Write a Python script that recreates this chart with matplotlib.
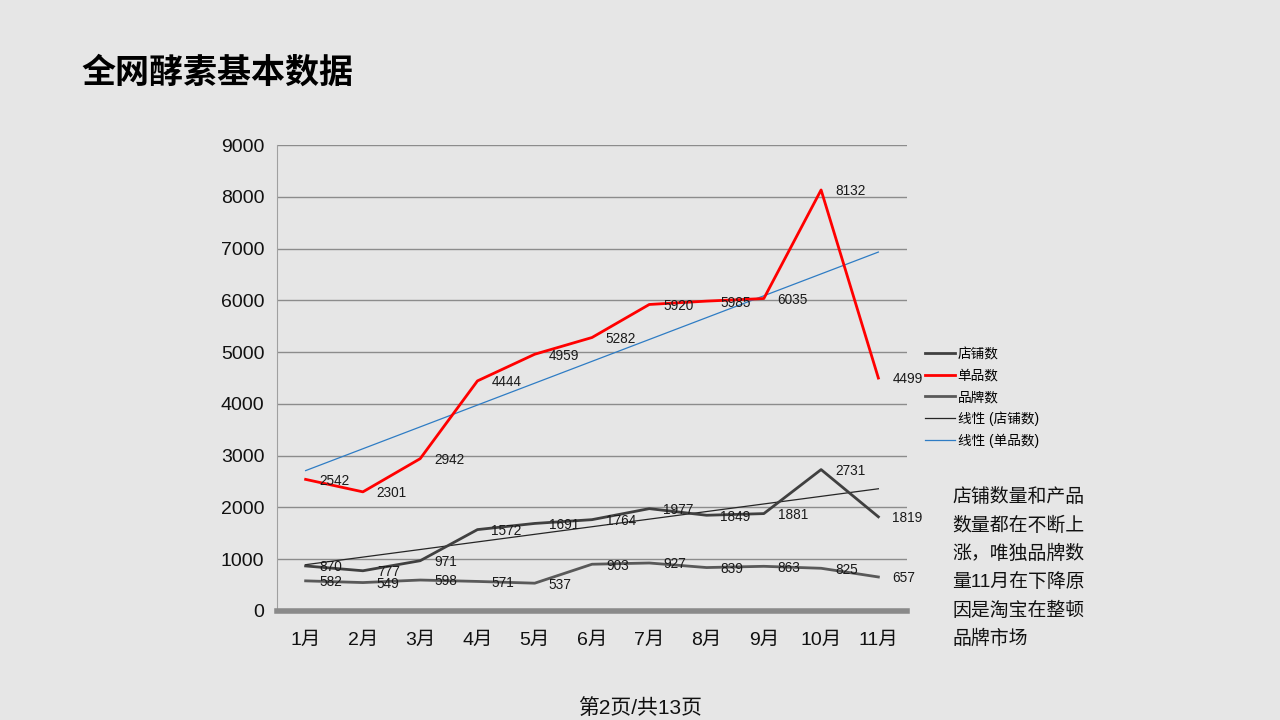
import numpy as np
import matplotlib
matplotlib.use("Agg")
import matplotlib.pyplot as plt

plt.rcParams['font.family'] = ['Liberation Sans', 'Noto Sans CJK SC', 'DejaVu Sans']

months = ['1月', '2月', '3月', '4月', '5月', '6月', '7月', '8月', '9月', '10月', '11月']
shops = [870, 777, 971, 1572, 1691, 1764, 1977, 1849, 1881, 2731, 1819]
items = [2542, 2301, 2942, 4444, 4959, 5282, 5920, 5985, 6035, 8132, 4499]
brands = [582, 549, 598, 571, 537, 903, 927, 839, 863, 825, 657]

bg = '#e6e6e6'
fig = plt.figure(figsize=(12.8, 7.2), dpi=100, facecolor=bg)
ax = fig.add_axes([0.2164, 0.1514, 0.4922, 0.6472], facecolor=bg)

x = np.arange(len(months))

# linear trend lines, like Excel's
k1, b1 = np.polyfit(x, shops, 1)
k2, b2 = np.polyfit(x, items, 1)

l1, = ax.plot(x, shops, color='#404040', lw=2, label='店铺数', zorder=3)
l2, = ax.plot(x, items, color='#ff0000', lw=2, label='单品数', zorder=3)
l3, = ax.plot(x, brands, color='#595959', lw=2, label='品牌数', zorder=3)
l4, = ax.plot(x, k1 * x + b1, color='#262626', lw=0.9, label='线性 (店铺数)', zorder=2)
l5, = ax.plot(x, k2 * x + b2, color='#2e7cc4', lw=0.9, label='线性 (单品数)', zorder=2)

for series in (shops, items, brands):
    for xi, v in zip(x, series):
        ax.annotate(str(v), (xi, v), xytext=(10, -1), textcoords='offset points',
                    ha='left', va='center', fontsize=9.8, color='#1a1a1a', zorder=4)

ax.set_xlim(-0.5, len(months) - 0.5)
ax.set_ylim(0, 9000)
ax.set_yticks(range(0, 9001, 1000))
ax.set_xticks(x)
ax.set_xticklabels(months)
ax.tick_params(axis='both', length=0, labelsize=14, colors='#111111')
ax.tick_params(axis='x', pad=15)
ax.tick_params(axis='y', pad=9)
ax.grid(axis='y', color='#8c8c8c', lw=1)
ax.set_axisbelow(True)
for s in ('top', 'right'):
    ax.spines[s].set_visible(False)
ax.spines['left'].set_color('#a0a0a0')
ax.spines['bottom'].set_color('#8a8a8a')
ax.spines['bottom'].set_linewidth(4)

leg = fig.legend(handles=[l1, l2, l3, l4, l5], loc='upper left',
                 bbox_to_anchor=(0.713, 0.535), frameon=False, fontsize=9.8,
                 handlelength=2.2, labelspacing=0.55, handletextpad=0.2)

fig.text(0.064, 0.898, '全网酵素基本数据', fontsize=24.5, fontweight='bold',
         ha='left', va='center', color='#000000')

note = '店铺数量和产品\n数量都在不断上\n涨，唯独品牌数\n量11月在下降原\n因是淘宝在整顿\n品牌市场'
fig.text(0.744, 0.322, note, fontsize=13.6, ha='left', va='top',
         linespacing=1.72, color='#111111')

fig.text(0.5, 0.017, '第2页/共13页', fontsize=15, ha='center', va='center', color='#111111')

fig.savefig('out.png', dpi=100, facecolor=bg)
